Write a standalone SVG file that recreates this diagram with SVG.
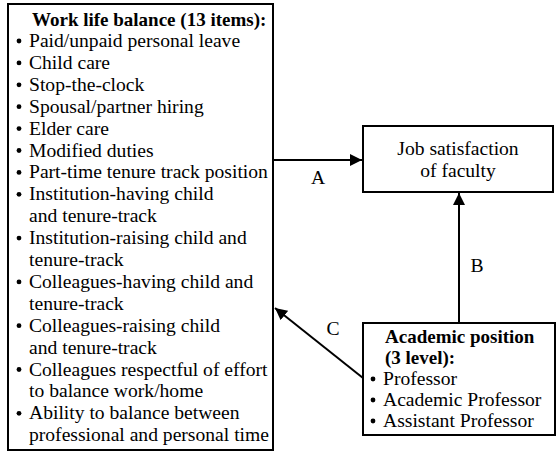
<svg xmlns="http://www.w3.org/2000/svg" width="556" height="453" viewBox="0 0 556 453">
<defs>
<style>
.box{fill:#fff;stroke:#000;stroke-width:2}
text{font-family:"Liberation Serif","Times New Roman",serif;font-size:19.6px;fill:#000}
.b{font-weight:bold;font-size:19px}
.c{text-anchor:middle}
.ln{stroke:#000;stroke-width:2;fill:none}
.dot{fill:#000}
</style>
<marker id="ah" viewBox="0 0 12 12" refX="12" refY="6" markerWidth="12" markerHeight="12" markerUnits="userSpaceOnUse" orient="auto">
<path d="M0,0 L12,6 L0,12 Z" fill="#000"/>
</marker>
</defs>
<rect width="556" height="453" fill="#fff"/>
<g id="connectors">
<line class="ln" x1="274" y1="160" x2="362" y2="160" marker-end="url(#ah)"/>
<line class="ln" x1="459" y1="323" x2="459" y2="193" marker-end="url(#ah)"/>
<line class="ln" x1="363" y1="378" x2="275" y2="308" marker-end="url(#ah)"/>
<text class="c" x="318" y="184">A</text>
<text class="c" x="477" y="272">B</text>
<text class="c" x="333" y="335">C</text>
</g>
<g id="work-life-balance">
<rect class="box" x="8" y="4" width="265" height="446"/>
<text class="b" x="32" y="26">Work life balance (13 items):</text>
<g>
<circle class="dot" cx="19" cy="41" r="2.4"/><text x="29" y="47">Paid/unpaid personal leave</text>
<circle class="dot" cx="19" cy="62.9" r="2.4"/><text x="29" y="68.9">Child care</text>
<circle class="dot" cx="19" cy="84.8" r="2.4"/><text x="29" y="90.8">Stop-the-clock</text>
<circle class="dot" cx="19" cy="106.7" r="2.4"/><text x="29" y="112.7">Spousal/partner hiring</text>
<circle class="dot" cx="19" cy="128.6" r="2.4"/><text x="29" y="134.6">Elder care</text>
<circle class="dot" cx="19" cy="150.5" r="2.4"/><text x="29" y="156.5">Modified duties</text>
<circle class="dot" cx="19" cy="172.4" r="2.4"/><text x="29" y="178.4">Part-time tenure track position</text>
<circle class="dot" cx="19" cy="194.3" r="2.4"/><text x="29" y="200.3">Institution-having child</text>
<text x="29" y="222.2">and tenure-track</text>
<circle class="dot" cx="19" cy="238.1" r="2.4"/><text x="29" y="244.1">Institution-raising child and</text>
<text x="29" y="266">tenure-track</text>
<circle class="dot" cx="19" cy="281.9" r="2.4"/><text x="29" y="287.9">Colleagues-having child and</text>
<text x="29" y="309.8">tenure-track</text>
<circle class="dot" cx="19" cy="325.7" r="2.4"/><text x="29" y="331.7">Colleagues-raising child</text>
<text x="29" y="353.6">and tenure-track</text>
<circle class="dot" cx="19" cy="369.5" r="2.4"/><text x="29" y="375.5">Colleagues respectful of effort</text>
<text x="29" y="397.4">to balance work/home</text>
<circle class="dot" cx="19" cy="413.3" r="2.4"/><text x="29" y="419.3">Ability to balance between</text>
<text x="29" y="441.2">professional and personal time</text>
</g>
</g>
<g id="job-satisfaction">
<rect class="box" x="363" y="126" width="190" height="66"/>
<text class="c" x="458" y="155">Job satisfaction</text>
<text class="c" x="458" y="177">of faculty</text>
</g>
<g id="academic-position">
<rect class="box" x="363" y="323" width="192" height="112"/>
<text class="b" x="385" y="343">Academic position</text>
<text class="b" x="385" y="364">(3 level):</text>
<circle class="dot" cx="373" cy="379" r="2.4"/><text x="383" y="385">Professor</text>
<circle class="dot" cx="373" cy="400" r="2.4"/><text x="383" y="406">Academic Professor</text>
<circle class="dot" cx="373" cy="421" r="2.4"/><text x="383" y="427">Assistant Professor</text>
</g>
</svg>
